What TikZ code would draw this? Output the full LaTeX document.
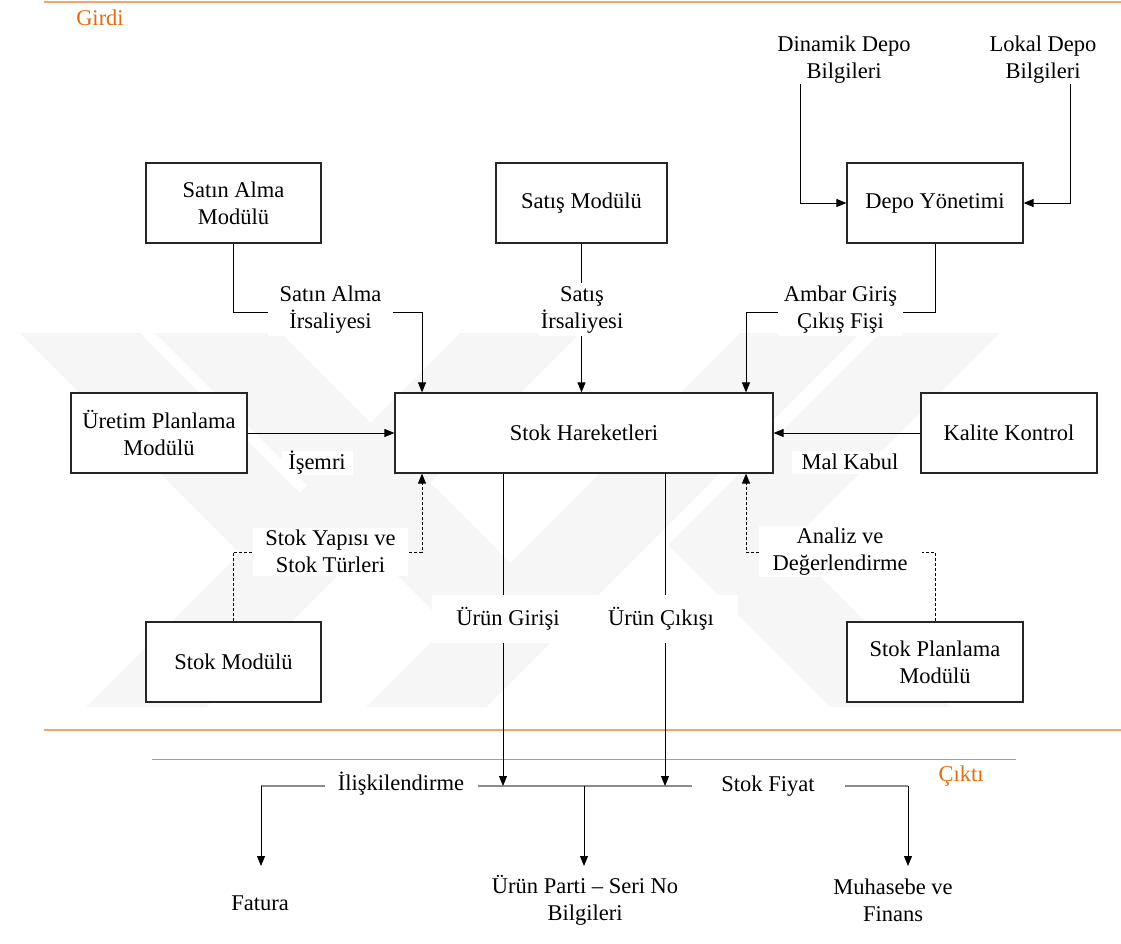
\documentclass[tikz,border=0pt]{standalone}
\usepackage{fontspec}
\setmainfont{Liberation Serif}
\newfontfamily\timesface{Liberation Serif}
\usetikzlibrary{arrows.meta}
\definecolor{headorange}{HTML}{E46C0A}
\definecolor{bandorange}{HTML}{F2A66E}
\definecolor{rulebrown}{HTML}{C99472}
\definecolor{wmgray}{gray}{0.965}

\begin{document}
\begin{tikzpicture}[x=1pt,y=-1pt,
  font=\timesface\fontsize{22.5}{27}\selectfont,
  box/.style={draw=black!85, line width=1.2pt, fill=white, minimum width=175pt,
    minimum height=80pt, align=center, inner sep=0pt},
  lbl/.style={fill=white, align=center, inner sep=2pt},
  plain/.style={align=center, inner sep=0pt},
  arr/.style={-{Triangle[length=10pt,width=8pt]}, line width=0.9pt},
  dsh/.style={dash pattern=on 3pt off 2pt},
  band/.style={fill=wmgray, draw=none},
  outline/.style={draw=gray!90, line width=1.8pt},
  heading/.style={text=headorange, inner sep=0pt}]

\useasboundingbox (0,0) rectangle (1121,944);
\fill[white] (0,0) rectangle (1121,944);

% faint background emblem
\fill[band] (20,333) -- (140,333) -- (358,551) -- (238,551) -- cycle;
\fill[band] (460,333) -- (580,333) -- (206,707) -- (86,707) -- cycle;
\fill[band] (155,333) -- (280,333) -- (572,625) -- (447,625) -- cycle;
\fill[band] (740,333) -- (860,333) -- (486,707) -- (366,707) -- cycle;
\fill[band] (880,333) -- (1000,333) -- (788,545) -- (668,545) -- cycle;
\fill[band] (668,545) -- (788,545) -- (950,707) -- (830,707) -- cycle;

% section rules
\draw[bandorange, line width=2pt] (44,2) -- (1121,2);
\draw[bandorange, line width=2pt] (44,730) -- (1121,730);
\draw[rulebrown, line width=1pt] (152,759) -- (1016,759);
\node[heading] (girdi) at (100,18) {Girdi};
\node[heading] (cikti) at (961,776) {Çıktı};

% modules
\node[box] (satin) at (233.5,203) {Satın Alma\\Modülü};
\node[box, minimum width=171pt] (satis) at (581.5,203) {Satış Modülü};
\node[box, minimum width=176pt] (depo) at (935,203) {Depo Yönetimi};
\node[box, minimum width=176pt] (uretim) at (159,433) {Üretim Planlama\\Modülü};
\node[box, minimum width=378pt] (stok) at (584,433) {Stok Hareketleri};
\node[box, minimum width=176pt] (kalite) at (1009,433) {Kalite Kontrol};
\node[box] (stokmod) at (233.5,662) {Stok Modülü};
\node[box, minimum width=176pt] (stokplan) at (935,662) {Stok Planlama\\Modülü};

% warehouse information sources
\node[plain] (dinamik) at (844,59.5) {Dinamik Depo\\Bilgileri};
\node[plain] (lokal) at (1043,59.5) {Lokal Depo\\Bilgileri};
\coordinate (dn) at (800,84);
\coordinate (lk) at (1070,84);
\draw[arr] (dn) |- (depo.west);
\draw[arr] (lk) |- (depo.east);

% inputs to stock movements
\coordinate (sa) at (422,312);
\coordinate (ab) at (746,312);
\coordinate (sy) at (422,552);
\coordinate (ad) at (746,552);
\draw[arr] (satin.south) |- (sa) -- (sa |- stok.north);
\draw[arr] (satis.south) -- (satis.south |- stok.north);
\draw[arr] (depo.south) |- (ab) -- (ab |- stok.north);
\draw[arr] (uretim.east) -- (stok.west);
\draw[arr] (kalite.west) -- (stok.east);
\draw[arr, dsh] (stokmod.north) |- (sy) -- (sy |- stok.south);
\draw[arr, dsh] (stokplan.north) |- (ad) -- (ad |- stok.south);

% outputs
\coordinate (ug) at (503,786);
\coordinate (uc) at (665,786);
\coordinate (bl) at (261,786);
\coordinate (bm) at (584,786);
\coordinate (br) at (908,786);
\coordinate (tl) at (261,866);
\coordinate (tm) at (584,866);
\coordinate (tr) at (908,866);
\draw[outline] (bl) -- (br);
\draw[arr] (ug |- stok.south) -- (ug);
\draw[arr] (uc |- stok.south) -- (uc);
\draw[arr] (bl) -- (tl);
\draw[arr] (bm) -- (tm);
\draw[arr] (br) -- (tr);

% connector labels
\node[lbl, minimum width=125pt, minimum height=53pt] (l1) at (330.5,309.5) {Satın Alma\\İrsaliyesi};
\node[lbl, minimum height=53pt] (l2) at (582,309.5) {Satış\\İrsaliyesi};
\node[lbl, minimum width=125pt, minimum height=53pt] (l3) at (840.5,309.5) {Ambar Giriş\\Çıkış Fişi};
\node[lbl, minimum width=71pt, minimum height=21pt, inner ysep=0pt] (l4) at (317,463) {İşemri};
\node[lbl, minimum width=116pt, minimum height=23pt, inner ysep=0pt] (l5) at (850,462) {Mal Kabul};
\node[lbl, minimum width=155pt, minimum height=48pt] (l6) at (330.5,551.5) {Stok Yapısı ve\\Stok Türleri};
\node[lbl, minimum width=163pt, minimum height=48pt] (l7) at (840,551.5) {Analiz ve\\Değerlendirme};
\node[lbl, minimum width=152pt, minimum height=48pt] (l8) at (508,619) {Ürün Girişi};
\node[lbl, minimum width=154pt, minimum height=48pt] (l9) at (661,619) {Ürün Çıkışı};
\node[lbl, minimum width=153pt, minimum height=28pt] (l10) at (401,784) {İlişkilendirme};
\node[lbl, minimum width=153pt, minimum height=28pt] (l11) at (768,786) {Stok Fiyat};

% output targets
\node[plain] (fatura) at (260,903) {Fatura};
\node[plain] (parti) at (585,900) {Ürün Parti – Seri No\\Bilgileri};
\node[plain] (muhasebe) at (893,900) {Muhasebe ve\\Finans};
\end{tikzpicture}
\end{document}
